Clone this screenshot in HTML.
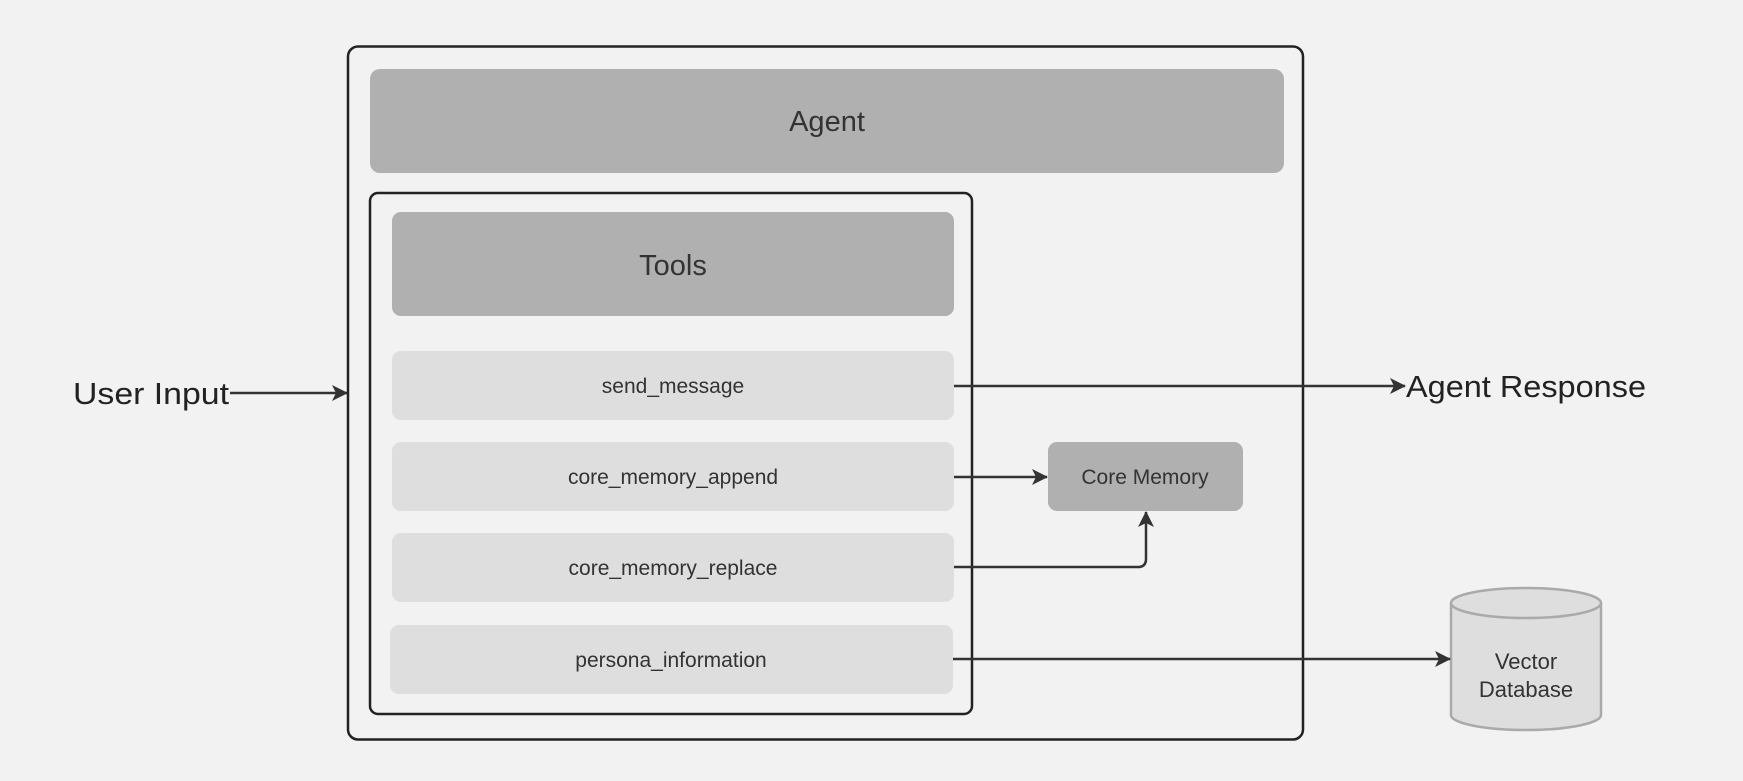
<!DOCTYPE html>
<html><head><meta charset="utf-8"><style>
html,body{margin:0;padding:0;background:#f2f2f2;}
svg{display:block}
text{font-family:"Liberation Sans","DejaVu Sans",sans-serif;fill:#333;}
</style></head><body>
<svg width="1743" height="781" viewBox="0 0 1743 781" xmlns="http://www.w3.org/2000/svg">
<defs>
<marker id="ah" markerWidth="10" markerHeight="10" refX="9" refY="5" orient="auto" markerUnits="userSpaceOnUse">
<path d="M0,0 L10,5 L0,10 L3,5 Z" fill="#333"/>
</marker>
<marker id="ah2" markerWidth="16" markerHeight="16" refX="15" refY="8" orient="auto" markerUnits="userSpaceOnUse">
<path d="M0,0 L16,8 L0,16 L4,8 Z" fill="#333"/>
</marker>
</defs>
<rect x="0" y="0" width="1743" height="781" fill="#f2f2f2"/>
<!-- outer -->
<rect x="348" y="46.5" width="955" height="693" rx="10" fill="none" stroke="#222" stroke-width="2.5"/>
<rect x="370" y="69" width="914" height="104" rx="10" fill="#b0b0b0"/>
<text x="827" y="131" font-size="29" text-anchor="middle">Agent</text>
<!-- tools container -->
<rect x="370" y="193" width="602" height="521" rx="8" fill="none" stroke="#222" stroke-width="2.5"/>
<rect x="392" y="212" width="562" height="104" rx="9" fill="#b0b0b0"/>
<text x="673" y="275" font-size="29" text-anchor="middle">Tools</text>
<rect x="392" y="351" width="562" height="69" rx="9" fill="#dedede"/>
<text x="673" y="393" font-size="21" text-anchor="middle">send_message</text>
<rect x="392" y="442" width="562" height="69" rx="9" fill="#dedede"/>
<text x="673" y="484" font-size="21" text-anchor="middle">core_memory_append</text>
<rect x="392" y="533" width="562" height="69" rx="9" fill="#dedede"/>
<text x="673" y="575" font-size="21" text-anchor="middle">core_memory_replace</text>
<rect x="390" y="625" width="563" height="69" rx="9" fill="#dedede"/>
<text x="671" y="667" font-size="21" text-anchor="middle">persona_information</text>
<!-- core memory -->
<rect x="1048" y="442" width="195" height="69" rx="9" fill="#b0b0b0"/>
<text x="1145" y="484" font-size="21" text-anchor="middle">Core Memory</text>
<!-- vector db -->
<path d="M1451,603 L1451,715 A75,15 0 0 0 1601,715 L1601,603" fill="#dedede" stroke="#aaa" stroke-width="2.5"/>
<ellipse cx="1526" cy="603" rx="75" ry="15" fill="#dedede" stroke="#aaa" stroke-width="2.5"/>
<text x="1526" y="669" font-size="22" text-anchor="middle">Vector</text>
<text x="1526" y="697" font-size="22" text-anchor="middle">Database</text>
<!-- arrows -->
<line x1="230" y1="393" x2="347" y2="393" stroke="#333" stroke-width="2.5" marker-end="url(#ah2)"/>
<line x1="954" y1="386" x2="1405" y2="386" stroke="#333" stroke-width="2.5" marker-end="url(#ah2)"/>
<line x1="954" y1="477" x2="1047" y2="477" stroke="#333" stroke-width="2.5" marker-end="url(#ah2)"/>
<path d="M954,567 L1138,567 Q1146,567 1146,559 L1146,512" fill="none" stroke="#333" stroke-width="2.5" marker-end="url(#ah2)"/>
<line x1="953" y1="659" x2="1450" y2="659" stroke="#333" stroke-width="2.5" marker-end="url(#ah2)"/>
<text x="73" y="404" font-size="31" textLength="156" lengthAdjust="spacingAndGlyphs" style="fill:#222">User Input</text>
<text x="1406" y="397" font-size="31" textLength="240" lengthAdjust="spacingAndGlyphs" style="fill:#222">Agent Response</text>
</svg>
</body></html>
